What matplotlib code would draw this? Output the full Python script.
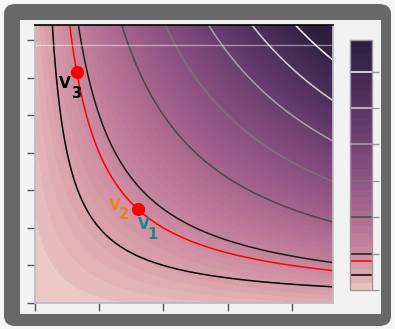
import numpy as np
import matplotlib
matplotlib.use('Agg')
import matplotlib.pyplot as plt
import seaborn as sns
from matplotlib.colors import ListedColormap, Normalize
from matplotlib.cm import ScalarMappable
from matplotlib.patches import FancyBboxPatch, Rectangle

# goods space and utility u = x * y
x_max, y_max = 4.64, 7.4
line_levels = [2, 5, 10, 15, 20, 25, 30]
red_level = [4]
cbar_ticks = [0, 5, 10, 15, 20, 25, 30]
x_ticks = [0, 1, 2, 3, 4]
y_ticks = [0, 1, 2, 3, 4, 5, 6, 7]
grid_y = 6.87

# bundles on the red indifference curve
p1 = (1.6, 2.5)
p3 = (0.65, 6.15)

x = np.linspace(0, x_max, 400)
y = np.linspace(0, y_max, 400)
X, Y = np.meshgrid(x, y)
U = X * Y
u_max = U.max()

# background shading: utility plus a soft glow fading out from the origin
rho = np.hypot(X / x_max, Y / y_max * (278 / 298))
shade = U + 1.6 * rho

plt.rcParams['font.family'] = ['DejaVu Sans']

fig = plt.figure(figsize=(3.95, 3.29), dpi=100)
fig.patch.set_facecolor('#f6f6f6')

# dark rounded frame and light panel behind everything
W, H = 395, 329
frame = FancyBboxPatch((4 / W, 3 / H), 387 / W, 322 / H,
                       boxstyle='round,pad=0,rounding_size=0.03',
                       transform=fig.transFigure, facecolor='#686868',
                       edgecolor='none', zorder=-2)
fig.patches.append(frame)
panel = Rectangle((20 / W, (H - 314) / H), 361 / W, 294 / H,
                  transform=fig.transFigure, facecolor='#f2f2f2',
                  edgecolor='none', zorder=-1)
fig.patches.append(panel)

ax = fig.add_axes([35 / W, (H - 303) / H, 298 / W, 278 / H])
cax = fig.add_axes([350 / W, (H - 290) / H, 22 / W, 250 / H])

# cubehelix stretched so the low utilities darken quickly
base = sns.cubehelix_palette(as_cmap=True)
cmap = ListedColormap(base(np.linspace(0, 1, 256) ** 0.6))
norm = Normalize(0, u_max)

ax.contourf(X, Y, shade, levels=np.linspace(0, shade.max(), 72),
            cmap=cmap, norm=norm, extend='max')
cs = ax.contour(X, Y, U, levels=line_levels, cmap='gray', linewidths=1.1)
cr = ax.contour(X, Y, U, levels=red_level, colors='red', linewidths=1.1)
ax.axhline(grid_y, color='white', alpha=0.45, lw=1)

ax.plot(*p3, 'o', color='red', ms=8.5, zorder=5)
ax.plot(*p1, 'o', color='red', ms=8.5, zorder=5)


def label(pt, letter_off, sub, sub_off, color):
    kw = dict(xycoords='data', textcoords='offset points',
              fontweight='bold', color=color, ha='center', va='center')
    ax.annotate('V', pt, xytext=letter_off, fontsize=11, **kw)
    ax.annotate(sub, pt, xytext=sub_off, fontsize=10.5, **kw)


label(p3, (-8.8, -8.0), '3', (-0.3, -15.2), 'black')
label(p1, (-16.2, 2.8), '2', (-9.8, -3.9), '#f0801e')
label(p1, (4.3, -11.3), '1', (10.6, -18.3), '#158a8a')

ax.set_xlim(0, x_max)
ax.set_ylim(0, y_max)
ax.set_xticks(x_ticks)
ax.set_yticks(y_ticks)
ax.set_xticklabels([])
ax.set_yticklabels([])
ax.tick_params(length=6, width=1, color='#555555')
ax.spines['top'].set_color('black')
ax.spines['top'].set_linewidth(1.2)
for side in ['left', 'bottom', 'right']:
    ax.spines[side].set_color('#bdbdbd')
    ax.spines[side].set_linewidth(1.3)

sm = ScalarMappable(norm=norm, cmap=cmap)
cbar = fig.colorbar(sm, cax=cax, boundaries=np.linspace(0, u_max, 36))
cbar.add_lines(cs)
cbar.add_lines(cr, erase=False)
cbar.set_ticks(cbar_ticks)
cbar.set_ticklabels([])
cbar.ax.tick_params(length=5, width=1, color='#999999')
cbar.outline.set_edgecolor('#999999')
cbar.outline.set_linewidth(1)

fig.savefig('out.png', dpi=100, facecolor=fig.get_facecolor())
